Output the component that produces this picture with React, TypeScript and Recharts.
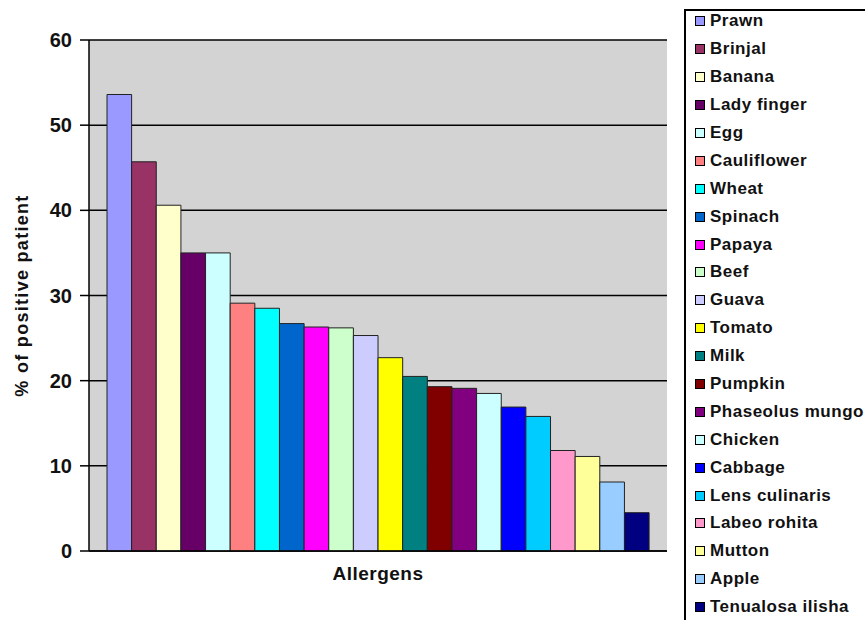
import { BarChart, Bar, XAxis, YAxis, CartesianGrid, Legend } from 'recharts'

// One category on the x axis, one bar per allergen (Excel-style chart).
const allergens = [
  'Prawn', 'Brinjal', 'Banana', 'Lady finger', 'Egg', 'Cauliflower', 'Wheat', 'Spinach',
  'Papaya', 'Beef', 'Guava', 'Tomato', 'Milk', 'Pumpkin', 'Phaseolus mungo', 'Chicken',
  'Cabbage', 'Lens culinaris', 'Labeo rohita', 'Mutton', 'Apple', 'Tenualosa ilisha',
]

const positivePct = [
  53.6, 45.7, 40.6, 35.0, 35.0, 29.1, 28.5, 26.7,
  26.3, 26.2, 25.3, 22.7, 20.5, 19.3, 19.1, 18.5,
  16.9, 15.8, 11.8, 11.1, 8.1, 4.5,
]

const colors = [
  '#9999FF', '#993366', '#FFFFCC', '#660066', '#CCFFFF', '#FF8080', '#00FFFF', '#0066CC',
  '#FF00FF', '#CCFFCC', '#CCCCFF', '#FFFF00', '#008080', '#800000', '#800080', '#CCFFFF',
  '#0000FF', '#00CCFF', '#FF99CC', '#FFFF99', '#99CCFF', '#000080',
]

const yTicks = [0, 10, 20, 30, 40, 50, 60]

const row: Record<string, string | number> = { group: 'Allergens' }
allergens.forEach((a, i) => {
  row[a] = positivePct[i]
})
const data = [row]

const FONT = '"Liberation Sans", Arial, sans-serif'

function LegendBox() {
  return (
    <div style={{ position: 'relative', top: -3.5 }}>
      {allergens.map((a, i) => (
        <div key={a} style={{ height: 27.9, display: 'flex', alignItems: 'center', whiteSpace: 'nowrap' }}>
          <span
            style={{
              width: 10,
              height: 10,
              boxSizing: 'border-box',
              border: '1px solid #000',
              background: colors[i],
              marginRight: 5,
              flex: 'none',
            }}
          />
          <span style={{ fontFamily: FONT, fontWeight: 700, fontSize: 17, letterSpacing: 0.5, color: '#111' }}>{a}</span>
        </div>
      ))}
    </div>
  )
}

export default function App() {
  return (
    <div style={{ position: 'absolute', left: 0, top: 0, width: 865, height: 620, overflow: 'hidden', background: '#fff' }}>
      <BarChart
        width={865}
        height={620}
        data={data}
        margin={{ top: 40, right: 198, bottom: 0, left: 0 }}
        barSize={24.64}
        barGap={0}
      >
        <CartesianGrid vertical={false} fill="#d3d3d3" fillOpacity={1} stroke="#000" strokeWidth={1.5} />
        <XAxis
          dataKey="group"
          tick={false}
          tickLine={false}
          axisLine={{ stroke: '#000', strokeWidth: 1.5 }}
          height={69}
          label={{
            value: 'Allergens',
            position: 'insideTop',
            offset: 16,
            style: { fontFamily: FONT, fontWeight: 700, fontSize: 19, letterSpacing: 0.5, fill: '#111' },
          }}
        />
        <YAxis
          domain={[0, 60]}
          ticks={yTicks}
          interval={0}
          width={89}
          tickSize={9}
          tickMargin={8}
          tickLine={{ stroke: '#000', strokeWidth: 1.5 }}
          axisLine={{ stroke: '#000', strokeWidth: 1.5 }}
          tick={{ fontFamily: FONT, fontWeight: 700, fontSize: 20, fill: '#111' }}
          label={{
            value: '% of positive patient',
            angle: -90,
            position: 'insideLeft',
            offset: 22,
            style: { textAnchor: 'middle', fontFamily: FONT, fontWeight: 700, fontSize: 18, letterSpacing: 1.3, fill: '#111' },
          }}
        />
        <YAxis
          yAxisId="frame"
          orientation="right"
          domain={[0, 60]}
          width={0}
          tick={false}
          tickLine={false}
          axisLine={{ stroke: '#000', strokeWidth: 1.5 }}
        />
        <Legend
          layout="vertical"
          align="center"
          verticalAlign="middle"
          content={<LegendBox />}
          wrapperStyle={{
            left: 684,
            top: 9,
            width: 181,
            height: 611,
            boxSizing: 'border-box',
            borderLeft: '2px solid #000',
            borderTop: '2px solid #000',
            paddingLeft: 9,
            background: '#fff',
            overflow: 'hidden',
          }}
        />
        {allergens.map((a, i) => (
          <Bar key={a} dataKey={a} fill={colors[i]} stroke="#222" strokeWidth={1} isAnimationActive={false} />
        ))}
      </BarChart>
    </div>
  )
}
